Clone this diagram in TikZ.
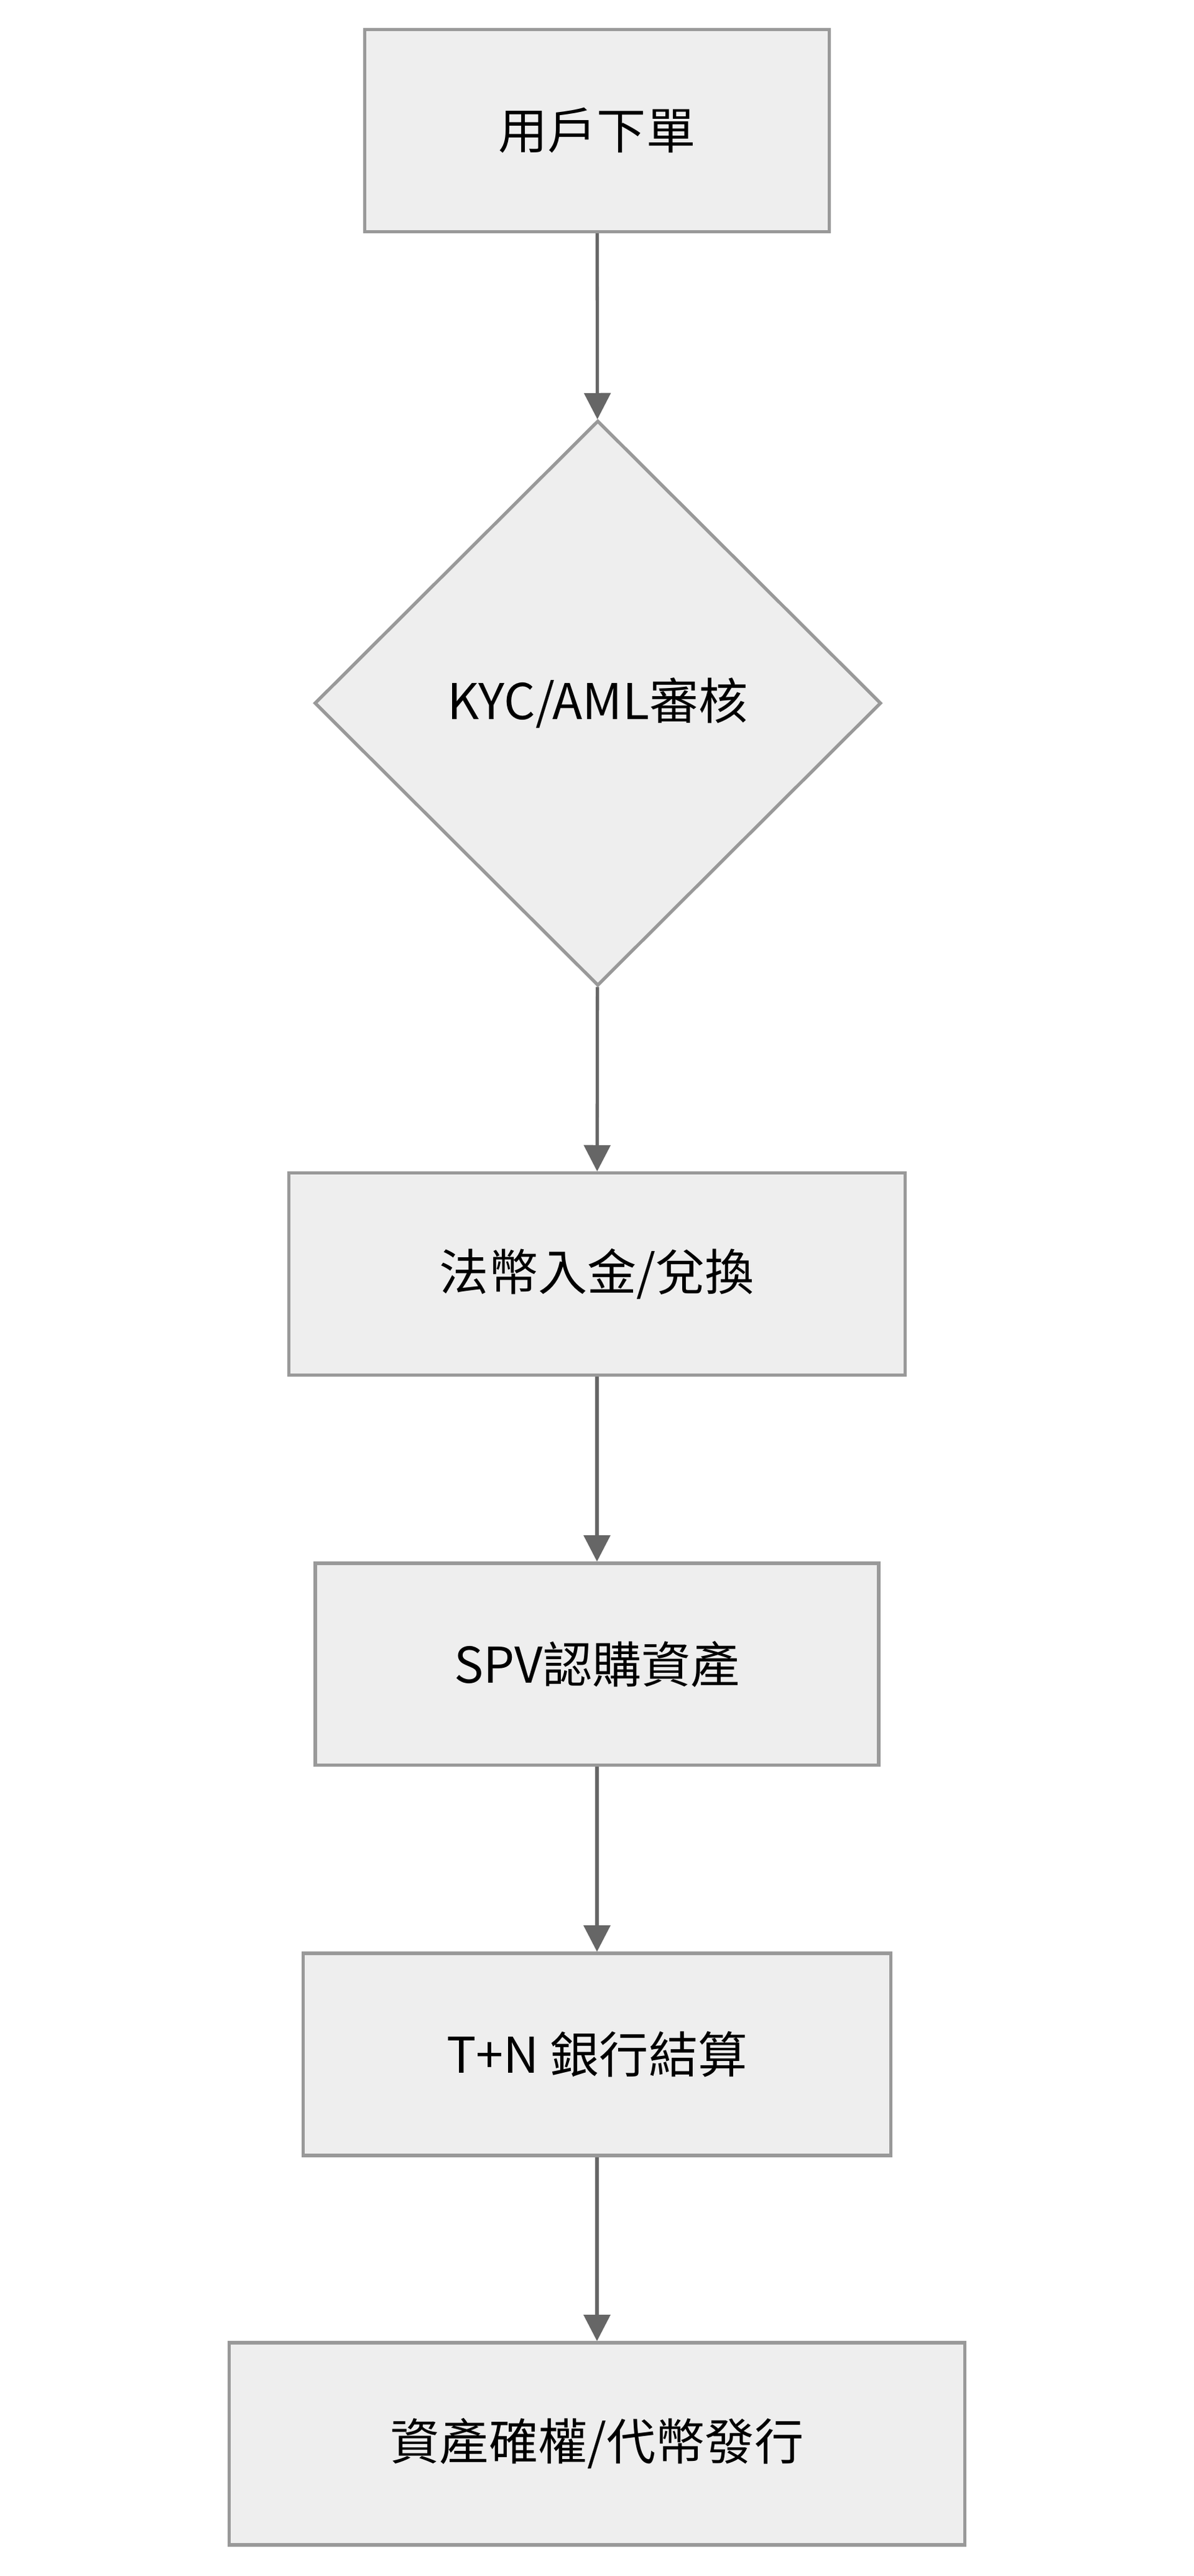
\documentclass[tikz,border=0pt]{standalone}
\usepackage{fontspec}
\setmainfont{Noto Sans CJK TC}
\usetikzlibrary{arrows.meta,shapes.geometric}
\definecolor{boxfill}{HTML}{EEEEEE}
\definecolor{boxline}{HTML}{999999}
\definecolor{arrowline}{HTML}{666666}
\begin{document}
\begin{tikzpicture}[x=1pt,y=-1pt,
    every node/.style={font=\fontsize{30}{36}\selectfont, text=black},
    stepbox/.style={rectangle, draw=boxline, fill=boxfill, line width=2pt, minimum height=123pt},
    check/.style={diamond, draw=boxline, fill=boxfill, line width=2pt, minimum width=345pt, minimum height=344pt, inner sep=0pt},
    flow/.style={draw=arrowline, line width=2pt, -{Triangle[length=16pt,width=16pt]}}]
\useasboundingbox (0,0) rectangle (727,1568);
\node [stepbox, minimum width=283pt] (order) at (363.5,79.5) {用戶下單};
\node [check] (kyc) at (364,428) {KYC/AML審核};
\node [stepbox, minimum width=375pt] (fiat) at (363.5,775.5) {法幣入金/兌換};
\node [stepbox, minimum width=343pt] (spv) at (363.5,1013) {SPV認購資產};
\node [stepbox, minimum width=358pt] (settle) at (363.5,1250.5) {T+N 銀行結算};
\node [stepbox, minimum width=448pt] (issue) at (363.5,1487.5) {資產確權/代幣發行};
\draw [flow] (order) -- (kyc);
\draw [flow] (kyc) -- (fiat);
\draw [flow] (fiat) -- (spv);
\draw [flow] (spv) -- (settle);
\draw [flow] (settle) -- (issue);
\end{tikzpicture}
\end{document}
